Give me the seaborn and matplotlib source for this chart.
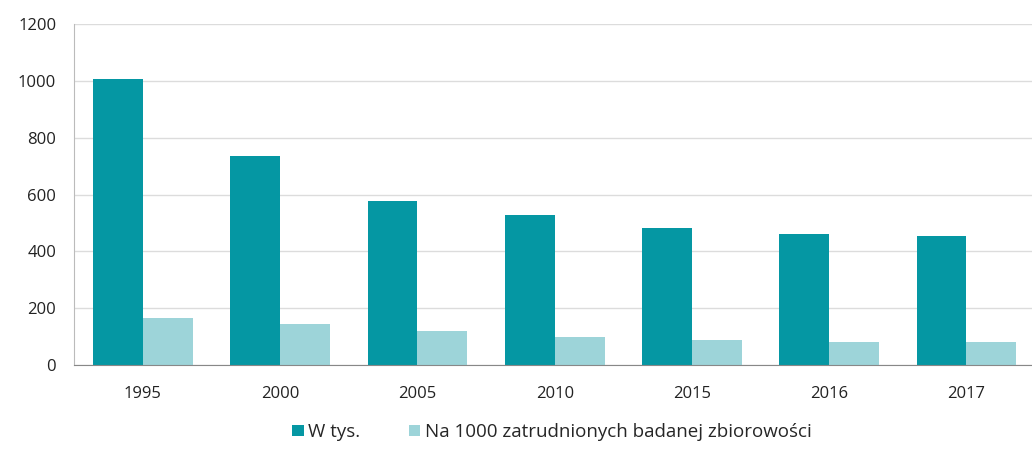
import pandas as pd
import matplotlib.pyplot as plt
import seaborn as sns

years = ['1995', '2000', '2005', '2010', '2015', '2016', '2017']
w_tys = [1006, 735, 576, 530, 484, 462, 456]
na_1000 = [166, 144, 121, 98, 88, 82, 82]
series = ['W tys.', 'Na 1000 zatrudnionych badanej zbiorowości']
colors = ['#0597a3', '#9dd4d9']

df = pd.DataFrame({
    'rok': years * 2,
    'wartosc': w_tys + na_1000,
    'seria': [series[0]] * len(years) + [series[1]] * len(years),
})

sns.set_style('white')
plt.rcParams['font.family'] = ['Open Sans', 'DejaVu Sans']

fig, ax = plt.subplots(figsize=(10.32, 4.49), dpi=100)
fig.subplots_adjust(left=0.072, right=1.003, top=0.946, bottom=0.187)

sns.barplot(data=df, x='rok', y='wartosc', hue='seria', palette=colors,
            width=0.726, saturation=1, edgecolor='none', linewidth=0, ax=ax)

ax.set_ylim(0, 1200)
ax.set_xlim(-0.5, 6.5)
ax.set_yticks(range(0, 1201, 200))
ax.yaxis.grid(True, color='#dcdcdc', linewidth=1)
ax.set_axisbelow(True)
ax.set_xlabel('')
ax.set_ylabel('')
ax.tick_params(axis='both', length=0, labelsize=12, colors='#222222')
ax.tick_params(axis='x', pad=15)
ax.tick_params(axis='y', pad=13)
for s in ['top', 'right']:
    ax.spines[s].set_visible(False)
ax.spines['left'].set_color('#bbbbbb')
ax.spines['bottom'].set_color('#888888')

h, l = ax.get_legend_handles_labels()
ax.get_legend().remove()
fig.legend(h, l, loc='lower center', ncol=2, frameon=False, fontsize=13.5,
           bbox_to_anchor=(0.535, -0.02), handlelength=0.6, handleheight=0.6,
           handletextpad=0.25, columnspacing=2.6)

plt.savefig('out.png', dpi=100)
